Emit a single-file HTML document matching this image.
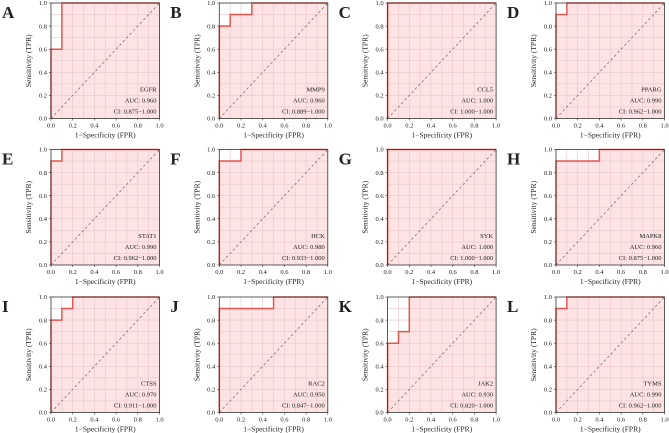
<!DOCTYPE html>
<html><head><meta charset="utf-8"><style>
html,body{margin:0;padding:0;background:#fff}
svg{display:block}
text{font-family:"Liberation Serif",serif;fill:#222}
</style></head><body>
<svg id="fig" width="669" height="433" viewBox="0 0 669 433"></svg>
<script>
const panelLetters=["A","B","C","D","E","F","G","H","I","J","K","L"];
const genes=["EGFR","MMP9","CCL5","PPARG","STAT1","HCK","SYK","MAPK8","CTSS","RAC2","JAK2","TYMS"];
const aucs=["0.960","0.960","1.000","0.990","0.990","0.980","1.000","0.960","0.970","0.950","0.930","0.990"];
const cis=["0.875−1.000","0.889−1.000","1.000−1.000","0.962−1.000","0.962−1.000","0.933−1.000","1.000−1.000","0.875−1.000","0.911−1.000","0.847−1.000","0.820−1.000","0.962−1.000"];
const fprs=[[0,0,0.1,0.1,1],[0,0,0.1,0.1,0.3,0.3,1],[0,0,1],[0,0,0.1,0.1,1],[0,0,0.1,0.1,1],[0,0,0.2,0.2,1],[0,0,1],[0,0,0.4,0.4,1],[0,0,0.1,0.1,0.2,0.2,1],[0,0,0.5,0.5,1],[0,0,0.1,0.1,0.2,0.2,1],[0,0,0.1,0.1,1]];
const tprs=[[0,0.6,0.6,1,1],[0,0.8,0.8,0.9,0.9,1,1],[0,1,1],[0,0.9,0.9,1,1],[0,0.9,0.9,1,1],[0,0.9,0.9,1,1],[0,1,1],[0,0.9,0.9,1,1],[0,0.8,0.8,0.9,0.9,1,1],[0,0.9,0.9,1,1],[0,0.6,0.6,0.7,0.7,1,1],[0,0.9,0.9,1,1]];
const ticks=["0.0","0.2","0.4","0.6","0.8","1.0"];
const NS="http://www.w3.org/2000/svg";
const svg=document.getElementById("fig");
function mk(t,a,p){const e=document.createElementNS(NS,t);for(const k in a)e.setAttribute(k,a[k]);(p||svg).appendChild(e);return e;}
const colX=[51,219.3,387.6,556],rowY=[3,149.5,297],W=108.5,H=115.5;
for(let i=0;i<12;i++){
  const x0=colX[i%4],y0=rowY[Math.floor(i/4)];
  const sx=v=>x0+v*W, sy=v=>y0+H-v*H;
  const g=mk("g",{});
  
  
  mk("rect",{x:x0,y:y0,width:W,height:H,fill:"#fff"},g);
  let d="M"+sx(0)+","+sy(0);
  for(let k=0;k<fprs[i].length;k++)d+=" L"+sx(fprs[i][k])+","+sy(tprs[i][k]);
  const area=mk("path",{d:d+" L"+sx(1)+","+sy(0)+" Z",fill:"#fde3e3"},g);
  
  
  for(let k=1;k<10;k++){
    mk("line",{x1:sx(k/10),x2:sx(k/10),y1:y0,y2:y0+H,stroke:"#e8c8c8","stroke-width":0.6},g);
    mk("line",{y1:sy(k/10),y2:sy(k/10),x1:x0,x2:x0+W,stroke:"#e8c8c8","stroke-width":0.6},g);
  }
  mk("line",{x1:sx(0),y1:sy(0),x2:sx(1),y2:sy(1),stroke:"#777","stroke-width":0.8,"stroke-dasharray":"2.5,2.5"},g);
  const curve=mk("path",{d:d,fill:"none",stroke:"#e8554e","stroke-width":1.5},g);
  
  
  mk("rect",{x:x0,y:y0,width:W,height:H,fill:"none",stroke:"#333","stroke-width":0.8},g);
  ticks.forEach((t,k)=>{
    const v=k/5;
    mk("line",{x1:sx(v),x2:sx(v),y1:y0+H,y2:y0+H+2,stroke:"#333","stroke-width":0.6},g);
    mk("line",{x1:x0-2,x2:x0,y1:sy(v),y2:sy(v),stroke:"#333","stroke-width":0.6},g);
    const tx=mk("text",{x:sx(v),y:y0+H+9,"font-size":6.5,"text-anchor":"middle"},g);tx.textContent=t;
    const ty=mk("text",{x:x0-4,y:sy(v)+2.2,"font-size":6.5,"text-anchor":"end"},g);ty.textContent=t;
  });
  const xl=mk("text",{x:x0+W/2,y:y0+H+19,"font-size":7.5,"text-anchor":"middle"},g);xl.textContent="1−Specificity (FPR)";
  
  const yl=mk("text",{x:0,y:0,"font-size":7.5,"text-anchor":"middle",transform:`translate(${x0-20},${y0+H/2}) rotate(-90)`},g);yl.textContent="Sensitivity (TPR)";
  
  const lines=[genes[i],"AUC: "+aucs[i],"CI: "+cis[i]];
  lines.forEach((s,k)=>{const t=mk("text",{x:x0+W-3,y:y0+H-27+k*11,"font-size":6.5,"text-anchor":"end"},g);t.textContent=s;
    });
  const L=mk("text",{x:x0-49,y:y0+15,"font-size":17,"font-weight":"bold"},g);L.textContent=panelLetters[i];
  
}
</script>
</body></html>
